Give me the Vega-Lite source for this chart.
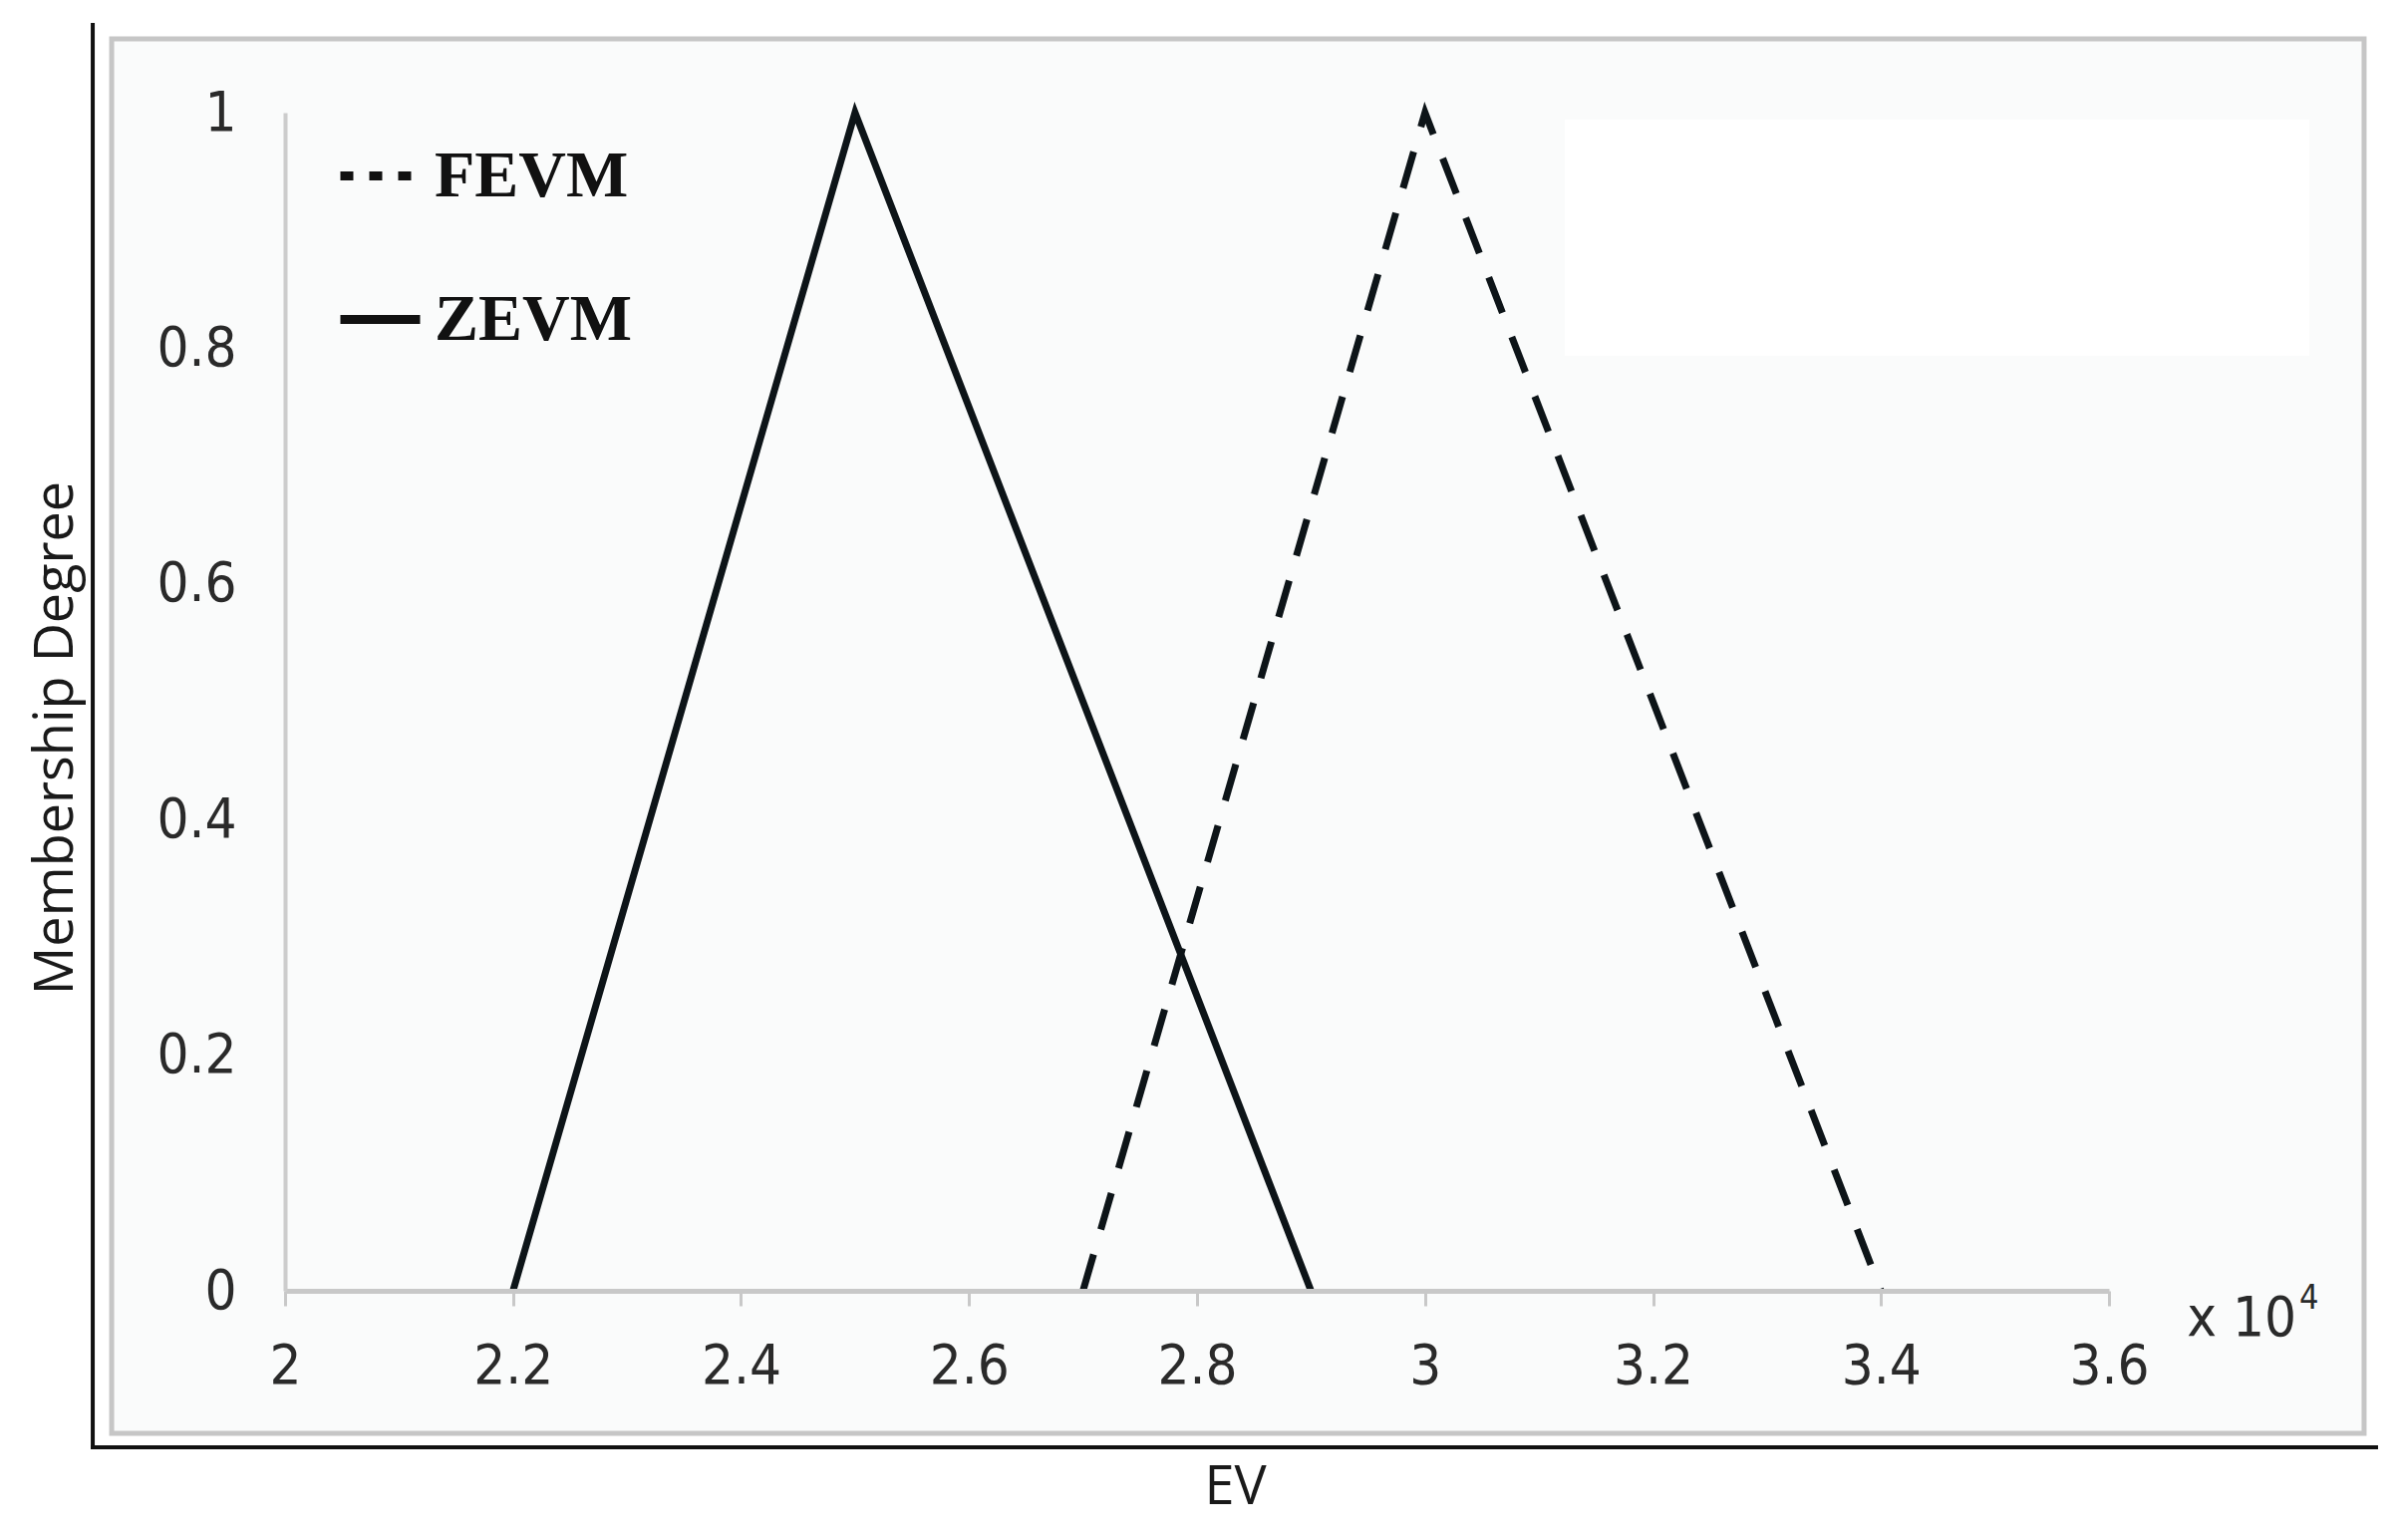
{
  "$schema": "https://vega.github.io/schema/vega-lite/v6.json",
  "width": 1830,
  "height": 1182,
  "autosize": {"type": "none"},
  "padding": {"left": 286, "top": 113, "right": 293, "bottom": 250},
  "background": "white",
  "config": {"view": {"stroke": null}},
  "datasets": {
    "curves": [
      {"series": "ZEVM", "ev": 2.2, "m": 0},
      {"series": "ZEVM", "ev": 2.5, "m": 1},
      {"series": "ZEVM", "ev": 2.9, "m": 0},
      {"series": "FEVM", "ev": 2.7, "m": 0},
      {"series": "FEVM", "ev": 3.0, "m": 1},
      {"series": "FEVM", "ev": 3.4, "m": 0}
    ],
    "box": [{"x1": 1.8479, "x2": 3.8238, "y1": -0.121, "y2": 1.0626}],
    "blank": [{"x1": 3.1226, "x2": 3.7757, "y1": 0.7936, "y2": 0.9941}],
    "frame": [
      {"x1": 1.8313, "x2": 1.8313, "y1": -0.1328, "y2": 1.0745},
      {"x1": 1.8313, "x2": 3.8343, "y1": -0.1328, "y2": -0.1328}
    ],
    "mult": [{"label": "x 10", "x": 3.7644, "y": -0.0381}],
    "expo": [{"label": "4", "x": 3.767, "y": -0.0152}]
  },
  "layer": [
    {
      "data": {"name": "box"},
      "mark": {"type": "rect", "fill": "#fafbfb", "stroke": "#c6c6c6", "strokeWidth": 5},
      "encoding": {
        "x": {
          "field": "x1", "type": "quantitative",
          "scale": {"domain": [2, 3.6], "nice": false, "zero": false},
          "axis": {
            "zindex": 1,
            "title": "EV",
            "values": [2, 2.2, 2.4, 2.6, 2.8, 3, 3.2, 3.4, 3.6],
            "format": "~g",
            "grid": false,
            "domainColor": "#c8c8c8",
            "domainWidth": 5,
            "tickColor": "#c8c8c8",
            "tickWidth": 3,
            "tickSize": 15,
            "labelPadding": 33,
            "labelFont": "Liberation Sans Narrow, Arial Narrow, DejaVu Sans Condensed, sans-serif",
            "labelFontSize": 56,
            "labelColor": "#2a2a2a",
            "labelFlush": false,
            "labelOverlap": false,
            "titleFont": "Open Sans",
            "titleFontSize": 54,
            "titleFontWeight": "normal",
            "titleColor": "#1a1a1a",
            "titleX": 953,
            "titleY": 213,
            "titleBaseline": "alphabetic",
            "titleAlign": "center"
          }
        },
        "x2": {"field": "x2"},
        "y": {
          "field": "y1", "type": "quantitative",
          "scale": {"domain": [0, 1], "nice": false, "zero": false},
          "axis": {
            "zindex": 1,
            "title": "Membership Degree",
            "values": [0, 0.2, 0.4, 0.6, 0.8, 1],
            "format": "~g",
            "grid": false,
            "ticks": false,
            "tickSize": 0,
            "domainColor": "#cccccc",
            "domainWidth": 4,
            "labelPadding": 49,
            "labelFont": "Liberation Sans Narrow, Arial Narrow, DejaVu Sans Condensed, sans-serif",
            "labelFontSize": 56,
            "labelColor": "#2a2a2a",
            "labelFlush": false,
            "labelOverlap": false,
            "titleFont": "Open Sans",
            "titleFontSize": 54,
            "titleFontWeight": "normal",
            "titleColor": "#1a1a1a",
            "titleX": -214,
            "titleY": 627,
            "titleAngle": -90,
            "titleBaseline": "alphabetic",
            "titleAlign": "center"
          }
        },
        "y2": {"field": "y2"}
      }
    },
    {
      "data": {"name": "blank"},
      "mark": {"type": "rect", "fill": "#ffffff", "strokeWidth": 0},
      "encoding": {
        "x": {"field": "x1", "type": "quantitative", "scale": {"domain": [2, 3.6], "nice": false, "zero": false}},
        "x2": {"field": "x2"},
        "y": {"field": "y1", "type": "quantitative", "scale": {"domain": [0, 1], "nice": false, "zero": false}},
        "y2": {"field": "y2"}
      }
    },
    {
      "data": {"name": "frame"},
      "mark": {"type": "rule", "color": "#111111", "strokeWidth": 4, "strokeCap": "square"},
      "encoding": {
        "x": {"field": "x1", "type": "quantitative", "scale": {"domain": [2, 3.6], "nice": false, "zero": false}},
        "x2": {"field": "x2"},
        "y": {"field": "y1", "type": "quantitative", "scale": {"domain": [0, 1], "nice": false, "zero": false}},
        "y2": {"field": "y2"}
      }
    },
    {
      "data": {"name": "curves"},
      "transform": [{"filter": "datum.series === 'ZEVM'"}],
      "mark": {"type": "line", "color": "#0d1418", "strokeWidth": 7, "strokeJoin": "miter", "strokeCap": "butt"},
      "encoding": {
        "x": {"field": "ev", "type": "quantitative", "scale": {"domain": [2, 3.6], "nice": false, "zero": false}},
        "y": {"field": "m", "type": "quantitative", "scale": {"domain": [0, 1], "nice": false, "zero": false}},
        "order": {"field": "ev", "type": "quantitative"}
      }
    },
    {
      "data": {"name": "curves"},
      "transform": [{"filter": "datum.series === 'FEVM'"}],
      "mark": {"type": "line", "color": "#0d1418", "strokeWidth": 7, "strokeJoin": "miter", "strokeCap": "butt", "strokeDash": [38, 26]},
      "encoding": {
        "x": {"field": "ev", "type": "quantitative", "scale": {"domain": [2, 3.6], "nice": false, "zero": false}},
        "y": {"field": "m", "type": "quantitative", "scale": {"domain": [0, 1], "nice": false, "zero": false}},
        "order": {"field": "ev", "type": "quantitative"}
      }
    },
    {
      "data": {"name": "curves"},
      "transform": [{"filter": "false"}],
      "mark": {"type": "line", "color": "#111111", "strokeWidth": 9},
      "encoding": {
        "x": {"field": "ev", "type": "quantitative", "scale": {"domain": [2, 3.6], "nice": false, "zero": false}},
        "y": {"field": "m", "type": "quantitative", "scale": {"domain": [0, 1], "nice": false, "zero": false}},
        "strokeDash": {
          "field": "series", "type": "nominal",
          "scale": {"domain": ["FEVM", "ZEVM"], "range": [[13, 16], [1, 0]]},
          "legend": {
            "title": null,
            "orient": "none",
            "legendX": 51,
            "legendY": 19,
            "padding": 0,
            "symbolType": "stroke",
            "symbolSize": 6400,
            "symbolStrokeWidth": 9,
            "symbolStrokeColor": "#111111",
            "labelFont": "Liberation Serif",
            "labelFontSize": 66,
            "labelFontWeight": "bold",
            "labelColor": "#111111",
            "labelLimit": 0,
            "labelOffset": 10,
            "rowPadding": 66
          }
        }
      }
    },
    {
      "data": {"name": "mult"},
      "mark": {"type": "text", "align": "right", "baseline": "alphabetic", "font": "Liberation Sans Narrow, Arial Narrow, DejaVu Sans Condensed, sans-serif", "fontSize": 56, "color": "#2a2a2a"},
      "encoding": {
        "x": {"field": "x", "type": "quantitative", "scale": {"domain": [2, 3.6], "nice": false, "zero": false}},
        "y": {"field": "y", "type": "quantitative", "scale": {"domain": [0, 1], "nice": false, "zero": false}},
        "text": {"field": "label"}
      }
    },
    {
      "data": {"name": "expo"},
      "mark": {"type": "text", "align": "left", "baseline": "alphabetic", "font": "Liberation Sans Narrow, Arial Narrow, DejaVu Sans Condensed, sans-serif", "fontSize": 34, "color": "#2a2a2a"},
      "encoding": {
        "x": {"field": "x", "type": "quantitative", "scale": {"domain": [2, 3.6], "nice": false, "zero": false}},
        "y": {"field": "y", "type": "quantitative", "scale": {"domain": [0, 1], "nice": false, "zero": false}},
        "text": {"field": "label"}
      }
    }
  ]
}
